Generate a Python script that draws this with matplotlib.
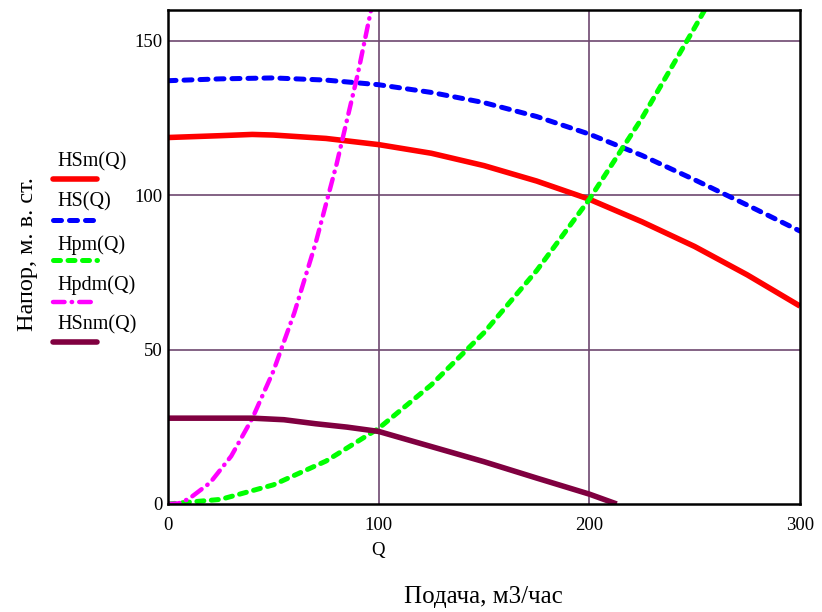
import numpy as np
import matplotlib
matplotlib.use('Agg')
import matplotlib.pyplot as plt
from matplotlib.lines import Line2D

plt.rcParams['font.family'] = ['Liberation Serif', 'DejaVu Serif']

# values
q_hsm = [0, 25, 40, 50, 75, 100, 125, 150, 175, 200, 225, 250, 275, 300]
hsm = [118.7, 119.3, 119.7, 119.5, 118.4, 116.4, 113.6, 109.6, 104.6, 98.7, 91.4, 83.4, 74.2, 64.1]

q_hs = [0, 25, 50, 75, 100, 125, 150, 175, 200, 225, 250, 275, 300]
hs = [137.1, 137.7, 138.0, 137.3, 135.8, 133.3, 130.0, 125.5, 119.8, 112.9, 105.0, 96.8, 88.4]

q_hpm = [0, 25, 50, 75, 100, 125, 150, 175, 200, 225, 250, 256]
hpm = [0, 1.5, 6.2, 13.9, 24.5, 38.6, 55.5, 75.6, 98.7, 125.0, 154.3, 161.5]

q_hpdm = [0, 5, 10, 20, 30, 40, 50, 60, 70, 80, 90, 97]
hpdm = [0, 0.2, 1.7, 6.9, 15.5, 27.7, 43.0, 62.0, 84.3, 110.0, 139.0, 162.0]

q_hsnm = [0, 20, 40, 55, 70, 85, 100, 125, 150, 175, 200, 213]
hsnm = [27.8, 27.8, 27.8, 27.3, 26.0, 24.9, 23.5, 18.6, 13.7, 8.4, 3.2, 0]

names = ['HSm(Q)', 'HS(Q)', 'Hpm(Q)', 'Hpdm(Q)', 'HSnm(Q)']
colors = ['#ff0000', '#0000ff', '#00ff00', '#ff00ff', '#800040']
styles = [dict(lw=4, ls='-'),
          dict(lw=3.6, ls=(0, (1.6, 1.6)), dash_capstyle='round'),
          dict(lw=3.6, ls=(0, (1.4, 1.5)), dash_capstyle='round'),
          dict(lw=3.2, ls=(0, (2.6, 1.6, 0.1, 1.6)), dash_capstyle='round'),
          dict(lw=4, ls='-')]
series = [(q_hsm, hsm), (q_hs, hs), (q_hpm, hpm), (q_hpdm, hpdm), (q_hsnm, hsnm)]

W, H = 822, 612
fig = plt.figure(figsize=(W / 100, H / 100), dpi=100)
ax = fig.add_axes([168 / W, 1 - 504 / H, (800 - 168) / W, (504 - 10) / H])

for (x, y), c, st in zip(series, colors, styles):
    ax.plot(x, y, color=c, solid_capstyle='butt', solid_joinstyle='round', **st)

ax.set_xlim(0, 300)
ax.set_ylim(0, 160)
ax.set_xticks([0, 100, 200, 300])
ax.set_yticks([0, 50, 100, 150])
for v in [100, 200]:
    ax.axvline(v, color='#6e4870', lw=1.2, zorder=0.5)
for v in [50, 100, 150]:
    ax.axhline(v, color='#6e4870', lw=1.2, zorder=0.5)
for sp in ax.spines.values():
    sp.set_linewidth(1.8)
    sp.set_color('black')
ax.tick_params(length=0, labelsize=13.5)
ax.tick_params(axis='x', pad=9)
ax.tick_params(axis='y', pad=4)

ax.text((378 - 168) / 632, -47 / 494, 'Q', transform=ax.transAxes,
        ha='center', va='center', fontsize=13.5)
fig.text(483 / W, 1 - 597 / H, 'Подача, м3/час', ha='center', va='center', fontsize=18)
fig.text(28 / W, 1 - 254 / H, 'Напор, м. в. ст.', ha='center', va='center',
         rotation=90, fontsize=17.5)

# legend drawn Mathcad-style: name above a line sample
text_y = [162, 202, 245, 285, 325]
line_y = [179, 220, 260, 302, 342]
for name, c, st, ty, ly in zip(names, colors, styles, text_y, line_y):
    fig.text(57 / W, 1 - ty / H, name, ha='left', va='center', fontsize=14.5)
    fig.add_artist(Line2D([53 / W, 97 / W], [1 - ly / H, 1 - ly / H], color=c,
                          transform=fig.transFigure, solid_capstyle='round', **st))

fig.savefig('out.png', dpi=100)
